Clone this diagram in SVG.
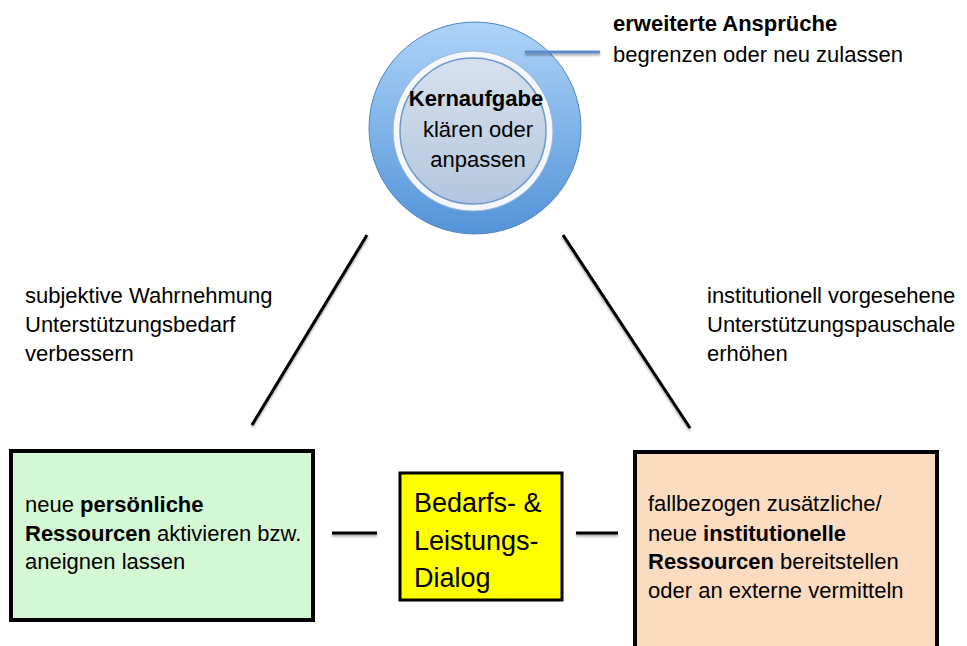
<svg xmlns="http://www.w3.org/2000/svg" width="967" height="646" viewBox="0 0 967 646">
  <defs>
    <linearGradient id="outerG" x1="0" y1="0" x2="0" y2="1">
      <stop offset="0" stop-color="#aed3f8"/>
      <stop offset="1" stop-color="#5393d8"/>
    </linearGradient>
    <linearGradient id="innerG" x1="0" y1="0" x2="0" y2="1">
      <stop offset="0" stop-color="#d6e1ee"/>
      <stop offset="1" stop-color="#b3c6de"/>
    </linearGradient>
    <filter id="sh" filterUnits="userSpaceOnUse" x="0" y="0" width="967" height="646">
      <feGaussianBlur in="SourceAlpha" stdDeviation="1.2"/>
      <feOffset dx="0" dy="2" result="b"/>
      <feComponentTransfer><feFuncA type="linear" slope="0.35"/></feComponentTransfer>
      <feMerge><feMergeNode/><feMergeNode in="SourceGraphic"/></feMerge>
    </filter>
  </defs>
  <style>
    text { font-family: "Liberation Sans", Arial, sans-serif; font-size: 22px; fill: #000; }
    .b { font-weight: bold; }
    .big { font-size: 27px; }
    .conn { stroke: #000; stroke-width: 3; fill: none; }
    .box { stroke: #000; stroke-width: 4; }
  </style>
  <rect width="967" height="646" fill="#fff"/>

  <g id="connectors" filter="url(#sh)">
    <line class="conn" x1="367" y1="235" x2="252" y2="425"/>
    <line class="conn" x1="563" y1="235" x2="690" y2="428"/>
    <line class="conn" x1="332" y1="533" x2="377" y2="533"/>
    <line class="conn" x1="576" y1="533" x2="618" y2="533"/>
  </g>

  <g id="kern">
    <circle cx="475" cy="128" r="106" fill="url(#outerG)" stroke="#4f86c6" stroke-width="1"/>
    <circle cx="473" cy="131" r="80" fill="#f4f7fb" stroke="#9cb5d3" stroke-width="1"/>
    <circle cx="473" cy="131" r="73" fill="url(#innerG)" stroke="#6e99cc" stroke-width="1.5"/>
    <text class="b" x="476" y="106" text-anchor="middle">Kernaufgabe</text>
    <text x="478" y="137" text-anchor="middle">klären oder</text>
    <text x="478" y="167" text-anchor="middle">anpassen</text>
  </g>

  <g id="ansprueche">
    <g filter="url(#sh)">
      <line x1="525" y1="52" x2="600" y2="52" stroke="#5b8ccc" stroke-width="3"/>
    </g>
    <text class="b" x="613" y="31">erweiterte Ansprüche</text>
    <text x="613" y="62">begrenzen oder neu zulassen</text>
  </g>

  <g id="label-left">
    <text x="25" y="303">subjektive Wahrnehmung</text>
    <text x="25" y="332">Unterstützungsbedarf</text>
    <text x="25" y="361">verbessern</text>
  </g>

  <g id="label-right">
    <text x="707" y="303">institutionell vorgesehene</text>
    <text x="707" y="332">Unterstützungspauschale</text>
    <text x="707" y="361">erhöhen</text>
  </g>

  <g id="persoenlich">
    <rect class="box" x="11" y="451" width="302" height="169" fill="#d4f8d3"/>
    <text x="25" y="512">neue <tspan class="b">persönliche</tspan></text>
    <text x="25" y="541"><tspan class="b">Ressourcen</tspan> aktivieren bzw.</text>
    <text x="25" y="569">aneignen lassen</text>
  </g>

  <g id="dialog">
    <rect x="400" y="473" width="162" height="127" fill="#ffff00" stroke="#000" stroke-width="3"/>
    <text class="big" x="414" y="512">Bedarfs- &amp;</text>
    <text class="big" x="414" y="550">Leistungs-</text>
    <text class="big" x="414" y="587">Dialog</text>
  </g>

  <g id="institutionell">
    <rect class="box" x="635" y="452" width="302" height="210" fill="#fbdcc0"/>
    <text x="648" y="511">fallbezogen zusätzliche/</text>
    <text x="648" y="541">neue <tspan class="b">institutionelle</tspan></text>
    <text x="648" y="569"><tspan class="b">Ressourcen</tspan> bereitstellen</text>
    <text x="648" y="598">oder an externe vermitteln</text>
  </g>
</svg>
